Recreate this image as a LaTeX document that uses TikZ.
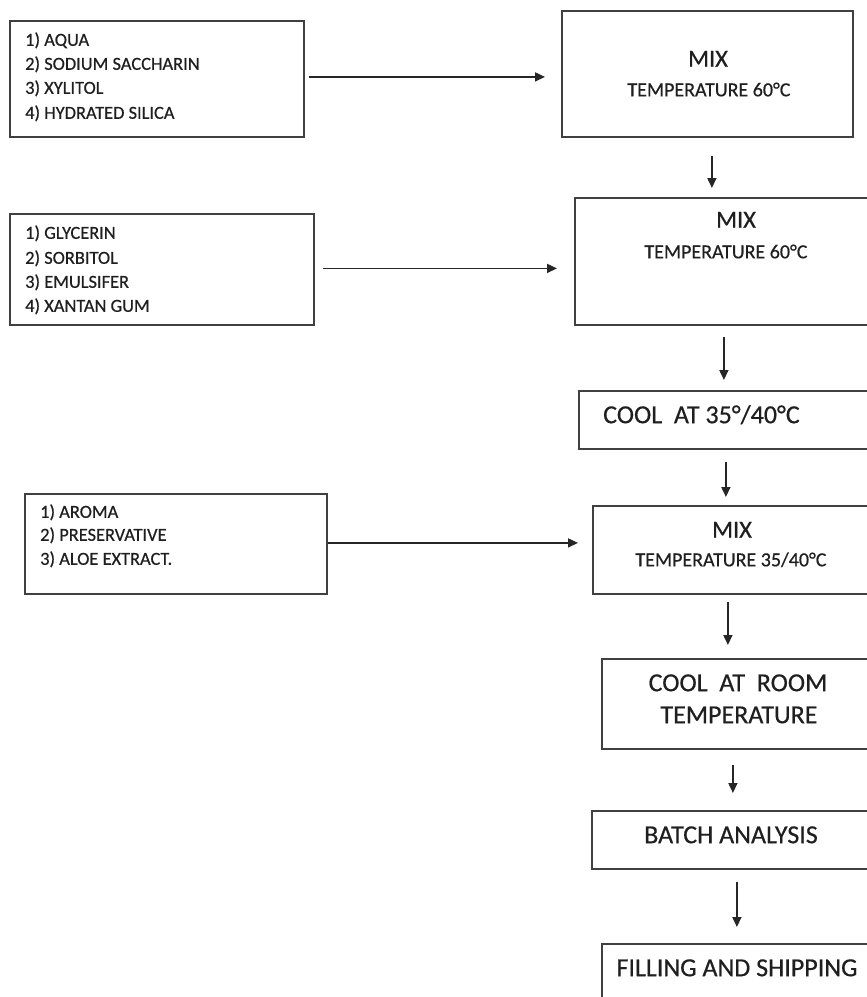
\documentclass[tikz,border=0pt]{standalone}
\usepackage{fontspec}
\setmainfont{Carlito}[UprightFeatures={FakeBold=0.5}]
\usetikzlibrary{arrows.meta}
\definecolor{linegray}{gray}{0.25}
\definecolor{txt}{gray}{0.12}
\tikzset{
  box/.style={draw=linegray, line width=1.8pt, fill=none, inner sep=0pt, anchor=north west},
  arr/.style={draw=black!85, line width=1.6pt, -{Triangle[length=10pt,width=9pt]}},
  listtxt/.style={font=\fontsize{18.4pt}{22pt}\selectfont, text=txt, text height=11.6pt, text depth=0pt, inner sep=0pt, anchor=west},
  mixtxt/.style={font=\fontsize{24.5pt}{28pt}\selectfont, text=txt, text height=15.4pt, text depth=0pt, inner sep=0pt},
  temptxt/.style={font=\fontsize{20pt}{24pt}\selectfont, text=txt, text height=12.6pt, text depth=0pt, inner sep=0pt},
  bigtxt/.style={font=\fontsize{26pt}{30pt}\selectfont, text=txt, text height=16.4pt, text depth=0pt, inner sep=0pt},
}
\begin{document}
\begin{tikzpicture}[x=1pt,y=-1pt]
\useasboundingbox[fill=white] (0,0) rectangle (867,997);
% boxes
\node[box, minimum width=294pt, minimum height=116pt] (A) at (9,20) {};
\node[box, minimum width=291pt, minimum height=126pt] (B) at (561,10) {};
\node[box, minimum width=294pt, minimum height=127pt] (C) at (574,197) {};
\node[box, minimum width=304pt, minimum height=111pt] (D) at (9,213) {};
\node[box, minimum width=290pt, minimum height=58pt] (E) at (578,390) {};
\node[box, minimum width=276pt, minimum height=88pt] (F) at (592,505) {};
\node[box, minimum width=302pt, minimum height=100pt] (G) at (24,493) {};
\node[box, minimum width=267pt, minimum height=90pt] (H) at (601,658) {};
\node[box, minimum width=277pt, minimum height=58pt] (I) at (591,810) {};
\node[box, minimum width=267pt, minimum height=70pt] (J) at (601,943) {};
% texts
\node[listtxt] (a1) at (25,40) {1) AQUA};
\node[listtxt] (a2) at (25,64) {2) SODIUM SACCHARIN};
\node[listtxt] (a3) at (25,88) {3) XYLITOL};
\node[listtxt] (a4) at (25,113) {4) HYDRATED SILICA};
\node[mixtxt] (b1) at (708,59) {MIX};
\node[temptxt] (b2) at (709,90) {TEMPERATURE 60°C};
\node[mixtxt] (c1) at (736,220) {MIX};
\node[temptxt] (c2) at (726,252) {TEMPERATURE 60°C};
\node[listtxt] (d1) at (25,233) {1) GLYCERIN};
\node[listtxt] (d2) at (25,258) {2) SORBITOL};
\node[listtxt] (d3) at (25,282) {3) EMULSIFER};
\node[listtxt] (d4) at (25,306) {4) XANTAN GUM};
\node[bigtxt, anchor=west] (e1) at (603,415) {COOL\ \ AT 35°/40°C};
\node[mixtxt] (f1) at (732,530) {MIX};
\node[temptxt] (f2) at (731,560) {TEMPERATURE 35/40°C};
\node[listtxt] (g1) at (40,512) {1) AROMA};
\node[listtxt] (g2) at (40,535) {2) PRESERVATIVE};
\node[listtxt] (g3) at (40,559) {3) ALOE EXTRACT.};
\node[bigtxt] (h1) at (738,683) {COOL\ \ AT\ \ ROOM};
\node[bigtxt] (h2) at (739,715) {TEMPERATURE};
\node[bigtxt] (i1) at (731,835) {BATCH ANALYSIS};
\node[bigtxt] (j1) at (737,968) {FILLING AND SHIPPING};
% connectors
\coordinate (pa) at ([yshift=2pt]A.east);
\draw[arr, shorten <=4pt, shorten >=16pt] (pa) -- (pa -| B.west);
\coordinate (pd) at ([yshift=1pt]D.east);
\draw[arr, shorten <=8pt, shorten >=17pt] (pd) -- (pd -| C.west);
\coordinate (pg) at ([yshift=1pt]G.east);
\draw[arr, shorten >=14pt] (pg) -- (pg -| F.west);
\coordinate (pb) at ([xshift=4.5pt]B.south);
\draw[arr, shorten <=18pt, shorten >=9pt] (pb) -- (pb |- C.north);
\coordinate (pc) at ([xshift=2pt]C.south);
\draw[arr, shorten <=11pt, shorten >=10pt] (pc) -- (pc |- E.north);
\coordinate (pe) at ([xshift=2pt]E.south);
\draw[arr, shorten <=12pt, shorten >=8pt] (pe) -- (pe |- F.north);
\coordinate (pf) at ([xshift=-3pt]F.south);
\draw[arr, shorten <=7pt, shorten >=13pt] (pf) -- (pf |- H.north);
\coordinate (ph) at ([xshift=-2.5pt]H.south);
\draw[arr, shorten <=15pt, shorten >=17pt] (ph) -- (ph |- I.north);
\coordinate (pi) at ([xshift=6.5pt]I.south);
\draw[arr, shorten <=12pt, shorten >=16pt] (pi) -- (pi |- J.north);
\end{tikzpicture}
\end{document}
